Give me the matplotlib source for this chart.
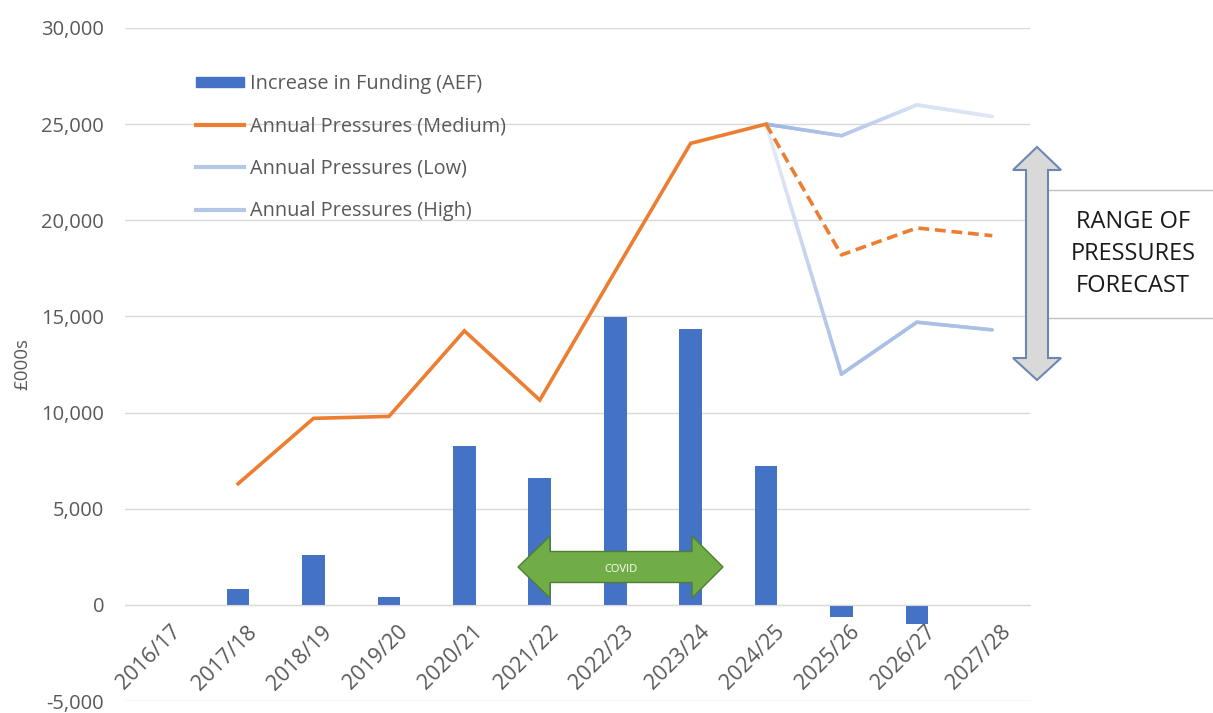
import numpy as np
import matplotlib
matplotlib.use("Agg")
import matplotlib.pyplot as plt
from matplotlib.collections import LineCollection
from matplotlib.lines import Line2D
from matplotlib.patches import Polygon, Patch, Rectangle
from matplotlib.colors import to_rgb

nan = np.nan
years = ["2016/17", "2017/18", "2018/19", "2019/20", "2020/21", "2021/22",
         "2022/23", "2023/24", "2024/25", "2025/26", "2026/27", "2027/28"]
funding = [nan, 800, 2600, 400, 8250, 6600, 14950, 14350, 7200, -650, -1000, nan]
pressures_medium = [nan, 6300, 9700, 9800, 14250, 10650, 17350, 24000, 25000,
                    18200, 19600, 19200]
pressures_low = [nan] * 8 + [25000, 12000, 14700, 14300]
pressures_high = [nan] * 8 + [25000, 24400, 26000, 25400]
forecast_start = 8  # 2024/25 is the last actual year

# colour at each forecast point (the scenario lines fade in/out)
low_colors = ["#e8eef8", "#a9bfe6", "#a9bfe6", "#abc0e6"]
high_colors = ["#9db6e2", "#b2c5e9", "#d6e1f3", "#dfe7f5"]

W, H = 1213, 713
plt.rcParams["font.family"] = ["Open Sans", "DejaVu Sans"]
fig = plt.figure(figsize=(W / 100, H / 100), dpi=100)
ax = fig.add_axes((125 / W, 1 - 701 / H, 905 / W, 673 / H))

x = np.arange(len(years))
ax.bar(x, funding, width=0.3, color="#4472c4", zorder=2)

med = np.array(pressures_medium, dtype=float)
ax.plot(x[:forecast_start + 1], med[:forecast_start + 1], color="#ed7d31",
        lw=2.6, zorder=3, solid_joinstyle="miter")
ax.plot(x[forecast_start:], med[forecast_start:], color="#ed7d31", lw=2.6,
        ls=(0, (3, 1.6)), zorder=3)


def fading_line(values, colors, steps=30):
    # one straight segment per pair of data points, shaded start->end colour
    v = np.array(values, dtype=float)
    idx = [i for i in range(len(v)) if not np.isnan(v[i])]
    segs, cols = [], []
    for k in range(len(idx) - 1):
        i, j = idx[k], idx[k + 1]
        c0, c1 = np.array(to_rgb(colors[k])), np.array(to_rgb(colors[k + 1]))
        t = np.linspace(0, 1, steps + 1)
        xs = x[i] + (x[j] - x[i]) * t
        ys = v[i] + (v[j] - v[i]) * t
        for s in range(steps):
            segs.append([(xs[s], ys[s]), (xs[s + 1], ys[s + 1])])
            cols.append(c0 + (c1 - c0) * (s + 0.5) / steps)
    return LineCollection(segs, colors=cols, linewidths=2.6, zorder=2.5,
                          capstyle="round")


ax.add_collection(fading_line(pressures_high, high_colors))
ax.add_collection(fading_line(pressures_low, low_colors))

ax.set_xlim(-0.5, len(years) - 0.5)
ax.set_ylim(-5000, 30000)
ax.set_yticks(np.arange(-5000, 30001, 5000))
ax.yaxis.set_major_formatter(matplotlib.ticker.FuncFormatter(lambda v, p: f"{v:,.0f}"))
ax.grid(axis="y", color="#d9d9d9", lw=1, zorder=0)
ax.set_axisbelow(True)
for s in ["top", "right", "left"]:
    ax.spines[s].set_visible(False)
ax.spines["bottom"].set_position(("data", 0))
ax.spines["bottom"].set_color("#d9d9d9")
ax.tick_params(axis="y", length=0, pad=15, labelsize=14.5, labelcolor="#595959")
ax.tick_params(axis="x", length=0, pad=12, labelsize=15.5, labelcolor="#595959")
ax.set_xticks(x)
ax.set_xticklabels(years, rotation=45, ha="right", va="top", rotation_mode="anchor")
for lbl in ax.get_xticklabels():
    lbl.set_transform(lbl.get_transform() +
                      matplotlib.transforms.ScaledTranslation(0.08, 0, fig.dpi_scale_trans))
ax.set_ylabel("£000s", fontsize=13.5, color="#595959")
ax.yaxis.set_label_coords(-0.104, 0.5)

handles = [Patch(color="#4472c4"),
           Line2D([], [], color="#ed7d31", lw=3),
           Line2D([], [], color="#b4c7e7", lw=3),
           Line2D([], [], color="#b4c7e7", lw=3)]
labels = ["Increase in Funding (AEF)", "Annual Pressures (Medium)",
          "Annual Pressures (Low)", "Annual Pressures (High)"]
leg = fig.legend(handles, labels, loc="upper left",
                 bbox_to_anchor=(196 / W, 1 - 74 / H), frameon=False,
                 fontsize=14.3, handlelength=2.4, handleheight=0.42,
                 handletextpad=0.3, labelspacing=1.12, borderpad=0,
                 borderaxespad=0)
for t in leg.get_texts():
    t.set_color("#595959")


def fig_poly(pts, **kw):
    p = Polygon([(px / W, 1 - py / H) for px, py in pts], closed=True,
                transform=fig.transFigure, **kw)
    fig.patches.append(p)


# text box + range of pressures double arrow
fig.patches.append(Rectangle((1045 / W, 1 - 318 / H), 200 / W, 128 / H,
                             transform=fig.transFigure, facecolor="white",
                             edgecolor="#bfbfbf", lw=1))
cx, top, bot = 1037, 147, 380
hb_t, hb_b, hw, sw = 170, 358, 24, 11
fig_poly([(cx, top), (cx + hw, hb_t), (cx + sw, hb_t), (cx + sw, hb_b),
          (cx + hw, hb_b), (cx, bot), (cx - hw, hb_b), (cx - sw, hb_b),
          (cx - sw, hb_t), (cx - hw, hb_t)],
         facecolor="#d9d9d9", edgecolor="#6d87b5", lw=1.5, zorder=5)
fig.text(1133 / W, 1 - 254 / H, "RANGE OF\nPRESSURES\nFORECAST", ha="center",
         va="center", fontsize=17, color="#1a1a1a", linespacing=1.42)

# covid arrow
cy, lt, rt = 567, 518, 723
lb, rb, hh, sh = 550, 692, 31, 15.5
fig_poly([(lt, cy), (lb, cy - hh), (lb, cy - sh), (rb, cy - sh), (rb, cy - hh),
          (rt, cy), (rb, cy + hh), (rb, cy + sh), (lb, cy + sh), (lb, cy + hh)],
         facecolor="#70ad47", edgecolor="#507e32", lw=1, zorder=5)
fig.text(621 / W, 1 - 569 / H, "COVID", ha="center", va="center", fontsize=8,
         color="white", zorder=6)

fig.savefig("out.png", dpi=100)
